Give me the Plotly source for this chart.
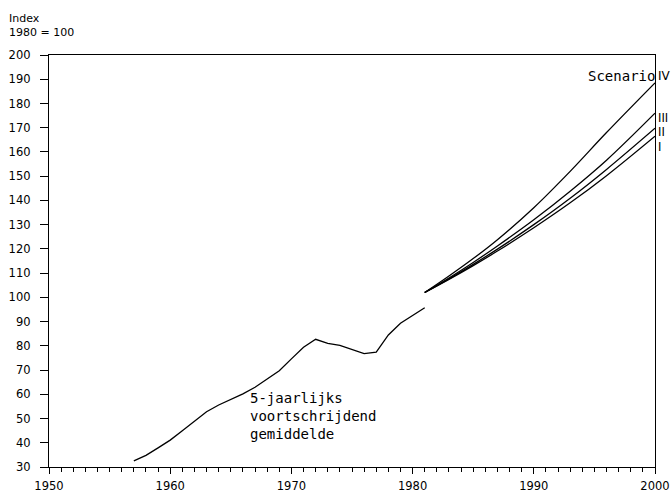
import plotly.graph_objects as go

# Historical 5-year moving average (index 1980 = 100)
hist_years = list(range(1957, 1982))
hist_values = [32.5, 34.8, 37.9, 41.1, 45.0, 49.0, 52.8, 55.6, 57.9, 60.2,
               62.9, 66.3, 69.7, 74.6, 79.4, 82.7, 81.0, 80.2, 78.5, 76.8,
               77.4, 84.5, 89.3, 92.4, 95.7]

# Scenario projections
scen_years = [1981, 1983, 1985, 1987, 1990, 1993, 1996, 2000]
scen_I = [102.0, 107.4, 113.1, 119.1, 128.7, 139.0, 150.2, 166.5]
scen_II = [102.0, 107.6, 113.6, 119.9, 130.0, 140.9, 152.8, 169.8]
scen_III = [102.0, 108.0, 114.4, 121.2, 132.0, 143.8, 156.6, 176.0]
scen_IV = [102.0, 108.8, 116.0, 123.8, 137.0, 152.0, 168.0, 188.5]

x_ticks = [1950, 1960, 1970, 1980, 1990, 2000]
y_ticks = list(range(30, 201, 10))

LINE = dict(color="black", width=1.3)
SANS = "DejaVu Sans"
MONO = "DejaVu Sans Mono"

W, H = 672, 493
ML, MR, MT, MB = 49, 17, 55, 26
PW, PH = W - ML - MR, H - MT - MB

fig = go.Figure()
fig.add_trace(go.Scatter(x=hist_years, y=hist_values, mode="lines", line=LINE,
                         showlegend=False, hoverinfo="skip"))
for ys in (scen_I, scen_II, scen_III, scen_IV):
    fig.add_trace(go.Scatter(x=scen_years, y=ys, mode="lines", line=LINE,
                             line_shape="spline", showlegend=False, hoverinfo="skip"))

fig.update_layout(
    width=W, height=H,
    margin=dict(l=ML, r=MR, t=MT, b=MB, autoexpand=False),
    paper_bgcolor="white", plot_bgcolor="white",
    font=dict(family=SANS, size=11, color="black"),
)
fig.update_xaxes(
    range=[1950, 2000], tickvals=x_ticks, ticktext=[str(v) for v in x_ticks],
    showgrid=False, zeroline=False, automargin=False,
    showline=True, linecolor="black", linewidth=1.3, mirror=True,
    ticks="outside", ticklen=6, tickwidth=1, tickcolor="black",
    ticklabelstandoff=2,
    minor=dict(dtick=1, ticks="outside", ticklen=4, tickwidth=1, tickcolor="black", showgrid=False),
    tickfont=dict(family=SANS, size=11.5),
)
fig.update_yaxes(
    range=[30, 200], tickvals=y_ticks, ticktext=[str(v) for v in y_ticks],
    showgrid=False, zeroline=False, automargin=False,
    showline=True, linecolor="black", linewidth=1.3, mirror=True,
    ticks="outside", ticklen=8, tickwidth=1, tickcolor="black",
    ticklabelstandoff=7,
    tickfont=dict(family=SANS, size=11.5),
)

ann = []
ann.append(dict(text="Index<br>1980 = 100", xref="paper", yref="paper",
                x=-(ML - 7) / PW, y=1 + (MT - 10) / PH, xanchor="left", yanchor="top",
                align="left", showarrow=False, font=dict(family=SANS, size=11)))
ann.append(dict(text="5-jaarlijks<br>voortschrijdend<br>gemiddelde", xref="x", yref="y",
                x=1966.4, y=62.4, xanchor="left", yanchor="top", align="left",
                showarrow=False, font=dict(family=MONO, size=14)))
ann.append(dict(text="Scenario", xref="paper", yref="paper", x=1.003, y=0.949,
                xanchor="right", yanchor="middle", showarrow=False,
                font=dict(family=MONO, size=14)))
ann.append(dict(text="IV", xref="paper", yref="paper", x=1.002, y=0.949,
                xanchor="left", yanchor="middle", showarrow=False,
                font=dict(family=SANS, size=12)))
for label, yp in (("III", 0.846), ("II", 0.813), ("I", 0.777)):
    ann.append(dict(text=label, xref="paper", yref="paper", x=1.002, y=yp,
                    xanchor="left", yanchor="middle", showarrow=False,
                    font=dict(family=SANS, size=11.5)))
fig.update_layout(annotations=ann)

fig.write_html(
    "out.html",
    config={"displayModeBar": False},
    post_script=(
        "document.documentElement.style.margin='0';"
        "document.body.style.margin='0';"
        "document.documentElement.style.overflow='hidden';"
        "document.body.style.overflow='hidden';"
    ),
)
